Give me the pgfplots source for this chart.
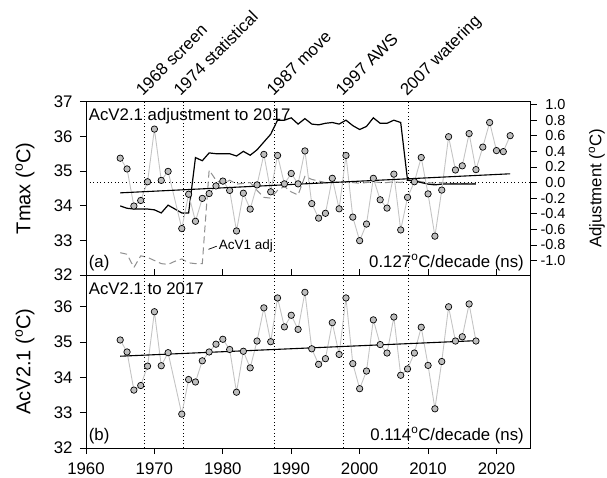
\documentclass[border=0pt]{standalone}
\usepackage{fontspec}
\setmainfont{Liberation Sans}
\usepackage{pgfplots}
\usepackage{pgfplotstable}
\pgfplotsset{compat=1.18}
\definecolor{ptfill}{HTML}{BEBEBE}
\definecolor{ptline}{HTML}{C4C4C4}
\definecolor{vonecol}{HTML}{8F8F8F}
\newcommand{\degC}{\textsuperscript{o}C}
\newcommand{\hm}{\mbox{-}}

\pgfplotstableread{
year tmax
1965 35.37
1966 35.06
1967 33.99
1968 34.15
1969 34.69
1970 36.21
1971 34.73
1972 34.99
1974 33.34
1975 34.33
1976 33.55
1977 34.21
1978 34.35
1979 34.57
1980 34.71
1981 34.44
1982 33.27
1983 34.36
1984 33.90
1985 34.60
1986 35.48
1987 34.40
1988 35.45
1989 34.63
1990 34.93
1991 34.63
1992 35.58
1993 34.06
1994 33.64
1995 33.78
1996 34.79
1997 33.91
1998 35.45
1999 33.67
2000 32.99
2001 33.47
2002 34.79
2003 34.17
2004 33.93
2005 34.91
2006 33.30
2007 34.24
2008 34.69
2009 35.39
2010 34.34
2011 33.12
2012 34.45
2013 35.99
2014 35.03
2015 35.15
2016 36.08
2017 35.04
2018 35.69
2019 36.40
2020 35.59
2021 35.56
2022 36.02
}\tmaxdata

\pgfplotstableread{
year acv
1965 35.06
1966 34.72
1967 33.64
1968 33.77
1969 34.32
1970 35.86
1971 34.33
1972 34.70
1974 32.96
1975 33.94
1976 33.87
1977 34.47
1978 34.72
1979 34.94
1980 35.08
1981 34.79
1982 33.58
1983 34.74
1984 34.27
1985 35.03
1986 35.97
1987 35.01
1988 36.25
1989 35.43
1990 35.76
1991 35.36
1992 36.41
1993 34.81
1994 34.37
1995 34.53
1996 35.55
1997 34.65
1998 36.25
1999 34.39
2000 33.68
2001 34.18
2002 35.63
2003 34.93
2004 34.69
2005 35.71
2006 34.06
2007 34.24
2008 34.69
2009 35.42
2010 34.34
2011 33.11
2012 34.45
2013 36.00
2014 35.03
2015 35.15
2016 36.08
2017 35.03
}\acvdata

\pgfplotstableread{
year adj
1965 -0.30
1966 -0.33
1967 -0.34
1968 -0.34
1969 -0.34
1970 -0.35
1971 -0.39
1972 -0.29
1973 -0.34
1974 -0.39
1975 -0.39
1976 0.32
1977 0.28
1978 0.38
1979 0.37
1980 0.37
1981 0.37
1982 0.34
1983 0.40
1984 0.35
1985 0.42
1986 0.52
1987 0.62
1988 0.80
1989 0.80
1990 0.83
1991 0.75
1992 0.82
1993 0.75
1994 0.74
1995 0.76
1996 0.77
1997 0.75
1998 0.80
1999 0.73
2000 0.68
2001 0.72
2002 0.83
2003 0.76
2004 0.76
2005 0.80
2006 0.77
2007 0.03
2008 0.02
2009 0.00
2010 -0.02
2011 -0.03
2012 -0.02
2013 -0.02
2014 -0.02
2015 -0.02
2016 -0.02
2017 -0.02
}\adjtwo

\pgfplotstableread{
year adj
1965 -0.90
1966 -0.92
1967 -1.09
1968 -0.94
1969 -0.96
1970 -1.00
1971 -1.04
1972 -1.05
1973 -1.01
1974 -0.98
1975 -1.03
1976 -1.04
1977 -1.04
1978 0.16
1979 0.03
1980 -0.02
1981 0.03
1982 -0.02
1983 -0.01
1984 0.00
1985 -0.10
1986 -0.19
1987 -0.20
1988 -0.10
1989 -0.05
1990 -0.12
1991 -0.16
1992 0.08
1993 0.04
1994 0.02
1995 0.00
1996 0.01
1997 0.00
1998 0.01
1999 0.00
2000 -0.01
2001 0.00
2002 0.01
2003 0.00
2004 0.00
2005 0.01
2006 0.00
2007 0.03
2008 0.03
2009 0.01
2010 0.00
2011 -0.01
2012 0.00
2013 -0.01
2014 -0.01
2015 -0.01
2016 -0.01
2017 -0.01
}\adjone

\pgfplotsset{
  base/.style={
    scale only axis, width=444.7bp, xmin=1960, xmax=2025,
    anchor=south west,
    axis line style={line width=0.8bp},
    every tick/.style={black, line width=0.8bp},
    major tick length=6bp, tick align=outside,
    /pgf/number format/assume math mode=true,
    /pgf/number format/1000 sep={},
    ticklabel style={font=\fontsize{16.8bp}{20bp}\selectfont},
  },
  pts/.style={color=ptline, line width=0.9bp, mark=*, mark size=3.2bp,
    mark options={solid, fill=ptfill, draw=black, line width=0.7bp}},
  vdot/.style={black, line width=0.9bp, dash pattern=on 1bp off 2.6bp},
}

\begin{document}
\begin{tikzpicture}[font=\fontsize{16.8bp}{20bp}\selectfont]
\useasboundingbox (0bp,0bp) rectangle (607bp,478bp);

% ---------- bottom panel ----------
\begin{axis}[base, at={(86bp,30bp)}, height=173bp, ymin=32, ymax=36.9,
  xtick={1960,1970,...,2020}, xtick pos=both, xticklabel pos=lower,
  ytick={32,33,34,35,36}, ytick pos=left,
  xticklabel style={inner sep=0.5bp, yshift=-8.5bp}, yticklabel style={xshift=-4bp}]
  \addplot[vdot] coordinates {(1968.5,32) (1968.5,36.9)};
  \addplot[vdot] coordinates {(1974.2,32) (1974.2,36.9)};
  \addplot[vdot] coordinates {(1987.5,32) (1987.5,36.9)};
  \addplot[vdot] coordinates {(1997.6,32) (1997.6,36.9)};
  \addplot[vdot] coordinates {(2007.1,32) (2007.1,36.9)};
  \addplot[pts] table[x=year,y=acv] {\acvdata};
  \addplot[black, line width=1.1bp] coordinates {(1965,34.60) (2017,35.04)};
  \node[anchor=base west, inner sep=0] at (axis description cs:0.006,0.89) {AcV2.1 to 2017};
  \node[anchor=base west, inner sep=0] at (axis description cs:0.006,0.045) {(b)};
  \node[anchor=base east, inner sep=0] at (axis description cs:0.985,0.045) {0.114\degC/decade (ns)};
\end{axis}

% ---------- top panel, right axis (adjustments) ----------
\begin{axis}[base, at={(86bp,203bp)}, height=173.3bp, ymin=-1.186, ymax=1.037,
  axis x line=none, axis y line*=right,
  ytick={-1,-0.8,-0.6,-0.4,-0.2,0,0.2,0.4,0.6,0.8,1},
  yticklabels={\hm1.0,\hm0.8,\hm0.6,\hm0.4,\hm0.2,0.0,0.2,0.4,0.6,0.8,1.0},
  yticklabel style={font=\fontsize{14.5bp}{16bp}\selectfont, anchor=east, inner sep=0pt, xshift=29bp}]
  \addplot[vdot] coordinates {(1960,0) (2025,0)};
  \addplot[vonecol, line width=1bp, dash pattern=on 7bp off 4bp] table[x=year,y=adj] {\adjone};
  \addplot[black, line width=1.2bp] table[x=year,y=adj] {\adjtwo};
\end{axis}

% ---------- top panel, left axis (Tmax) ----------
\begin{axis}[base, at={(86bp,203bp)}, height=173.3bp, ymin=32, ymax=37,
  xtick=\empty, ytick={32,33,34,35,36,37}, ytick pos=left, clip=false,
  yticklabel style={xshift=-4bp}]
  \addplot[vdot] coordinates {(1968.5,32) (1968.5,37)};
  \addplot[vdot] coordinates {(1974.2,32) (1974.2,37)};
  \addplot[vdot] coordinates {(1987.5,32) (1987.5,37)};
  \addplot[vdot] coordinates {(1997.6,32) (1997.6,37)};
  \addplot[vdot] coordinates {(2007.1,32) (2007.1,37)};
  \addplot[pts] table[x=year,y=tmax] {\tmaxdata};
  \addplot[black, line width=1.1bp] coordinates {(1965,34.37) (2022,34.92)};
  \node[anchor=base west, inner sep=0] at (axis description cs:0.006,0.894) {AcV2.1 adjustment to 2017};
  \node[anchor=base west, inner sep=0] at (axis description cs:0.006,0.045) {(a)};
  \node[anchor=base east, inner sep=0] at (axis description cs:0.985,0.045) {0.127\degC/decade (ns)};
  \draw[black, line width=0.7bp] (axis cs:1977.9,32.74) -- (axis cs:1979.1,32.83);
  \node[anchor=west, inner sep=0, font=\fontsize{13.5bp}{15bp}\selectfont] at (axis cs:1979.4,32.84) {AcV1 adj};
  \node[rotate=45, anchor=base west, inner sep=0] at (axis cs:1968.3,37.14) {1968 screen};
  \node[rotate=45, anchor=base west, inner sep=0] at (axis cs:1973.8,37.14) {1974 statistical};
  \node[rotate=45, anchor=base west, inner sep=0] at (axis cs:1987.4,37.14) {1987 move};
  \node[rotate=45, anchor=base west, inner sep=0] at (axis cs:1997.5,37.14) {1997 AWS};
  \node[rotate=45, anchor=base west, inner sep=0] at (axis cs:2006.9,37.14) {2007 watering};
\end{axis}

\node[rotate=90, font=\fontsize{20bp}{24bp}\selectfont] at (25bp,289.6bp) {Tmax (\degC)};
\node[rotate=90, font=\fontsize{20bp}{24bp}\selectfont] at (25bp,116.5bp) {AcV2.1 (\degC)};
\node[rotate=90] at (596.7bp,289.6bp) {Adjustment (\degC)};
\end{tikzpicture}
\end{document}
